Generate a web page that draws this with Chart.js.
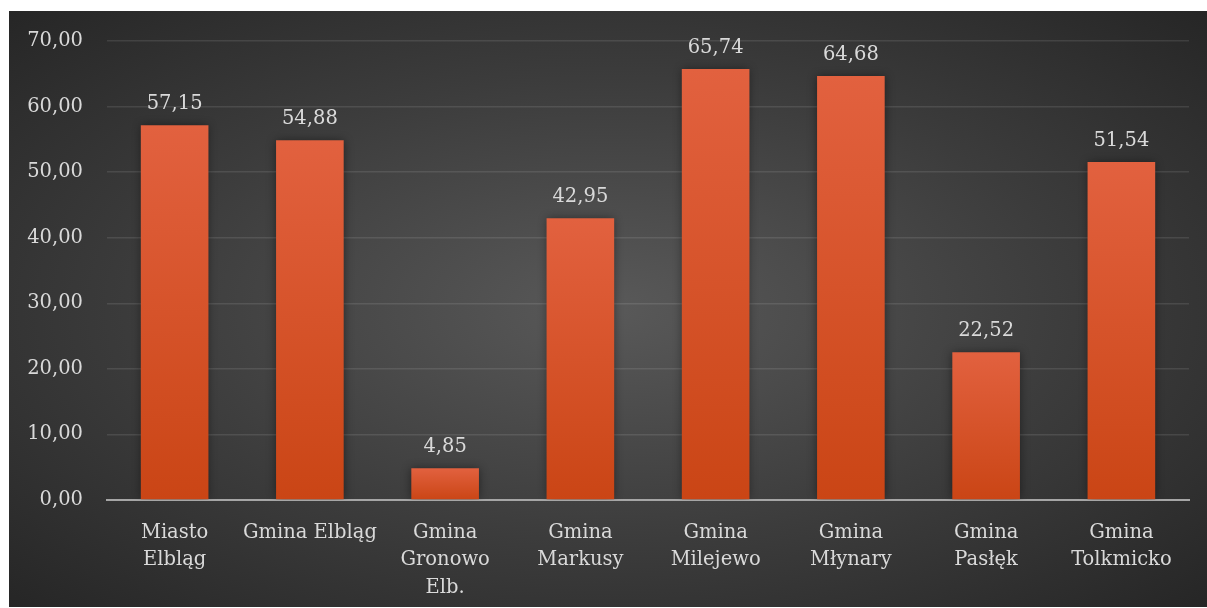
<!DOCTYPE html>
<html>
<head>
<meta charset="utf-8">
<script src="https://cdn.jsdelivr.net/npm/chart.js@4.4.1/dist/chart.umd.min.js"></script>
<style>
	html, body { margin:0; padding:0; background:#ffffff; }
	#box {
		position:absolute; left:9px; top:11px; width:1198px; height:596px;
		background: radial-gradient(ellipse farthest-corner at 50% 50%, #595959 0%, #3c3c3c 55%, #262626 100%);
	}
</style>
</head>
<body>
<div id="box"><canvas id="chart" width="1198" height="596"></canvas></div>
<script>
// dane z wykresu
var categories = [
	["Miasto", "Elbląg"],
	"Gmina Elbląg",
	["Gmina", "Gronowo", "Elb."],
	["Gmina", "Markusy"],
	["Gmina", "Milejewo"],
	["Gmina", "Młynary"],
	["Gmina", "Pasłęk"],
	["Gmina", "Tolkmicko"]
];
var values = [57.15, 54.88, 4.85, 42.95, 65.74, 64.68, 22.52, 51.54];
var yTicks = [0, 10, 20, 30, 40, 50, 60, 70];

var FONT = "'DejaVu Serif', serif";
var TEXT = "#d9d9d9";

function fmt(v)
{
	return v.toFixed(2).replace(".", ",");
}

// gradient for each bar, top lighter, bottom darker
function barFill(context)
{
	var chart = context.chart;
	var area = chart.chartArea;
	if (!area) return "#d65329";
	var y = chart.scales.y;
	var v = context.raw;
	var top = y.getPixelForValue(v);
	var bottom = y.getPixelForValue(0);
	var g = chart.ctx.createLinearGradient(0, top, 0, bottom);
	g.addColorStop(0, "#e2613f");
	g.addColorStop(1, "#ca4515");
	return g;
}

var barShadow = {
	id: "barShadow",
	beforeDatasetsDraw: function(chart)
	{
		var ctx = chart.ctx;
		ctx.save();
		ctx.shadowColor = "rgba(0,0,0,0.45)";
		ctx.shadowBlur = 9;
		ctx.shadowOffsetX = 0;
		ctx.shadowOffsetY = 0;
	},
	afterDatasetsDraw: function(chart)
	{
		chart.ctx.restore();
	}
};

var valueLabels = {
	id: "valueLabels",
	afterDatasetsDraw: function(chart)
	{
		var ctx = chart.ctx;
		var meta = chart.getDatasetMeta(0);
		ctx.save();
		ctx.font = "19.5px " + FONT;
		ctx.fillStyle = TEXT;
		ctx.textAlign = "center";
		ctx.textBaseline = "alphabetic";
		meta.data.forEach(function(bar, i) {
			ctx.fillText(fmt(values[i]), bar.x, bar.y - 16);
		});
		ctx.restore();
	}
};

new Chart(document.getElementById("chart"), {
	type: "bar",
	data: {
		labels: categories,
		datasets: [{
			data: values,
			backgroundColor: barFill,
			borderWidth: 0,
			barPercentage: 0.5,
			categoryPercentage: 1.0
		}]
	},
	options: {
		responsive: false,
		animation: false,
		events: [],
		layout: { padding: { left: 0, right: 18, top: 30, bottom: 0 } },
		plugins: {
			legend: { display: false },
			tooltip: { enabled: false }
		},
		scales: {
			x: {
				z: 1,
				grid: { display: false, drawTicks: false },
				border: { display: true, color: "#a6a6a6", width: 2 },
				ticks: {
					color: TEXT,
					font: { family: FONT, size: 19.5, lineHeight: 1.41 },
					padding: 19,
					maxRotation: 0,
					autoSkip: false
				},
				afterFit: function(scale) { scale.height = 107; }
			},
			y: {
				min: 0,
				max: 70,
				afterBuildTicks: function(scale) {
					scale.ticks = yTicks.map(function(v) { return { value: v }; });
				},
				// ticks hidden, their length gives the gap before the labels
				grid: { color: "rgba(255,255,255,0.10)", lineWidth: 1.5, drawTicks: true, tickLength: 24, tickColor: "rgba(0,0,0,0)" },
				border: { display: false },
				ticks: {
					color: TEXT,
					font: { family: FONT, size: 19.5 },
					padding: 0,
					callback: function(v) { return fmt(v); }
				},
				afterFit: function(scale) { scale.width = 98; }
			}
		}
	},
	plugins: [barShadow, valueLabels]
});
</script>
</body>
</html>
